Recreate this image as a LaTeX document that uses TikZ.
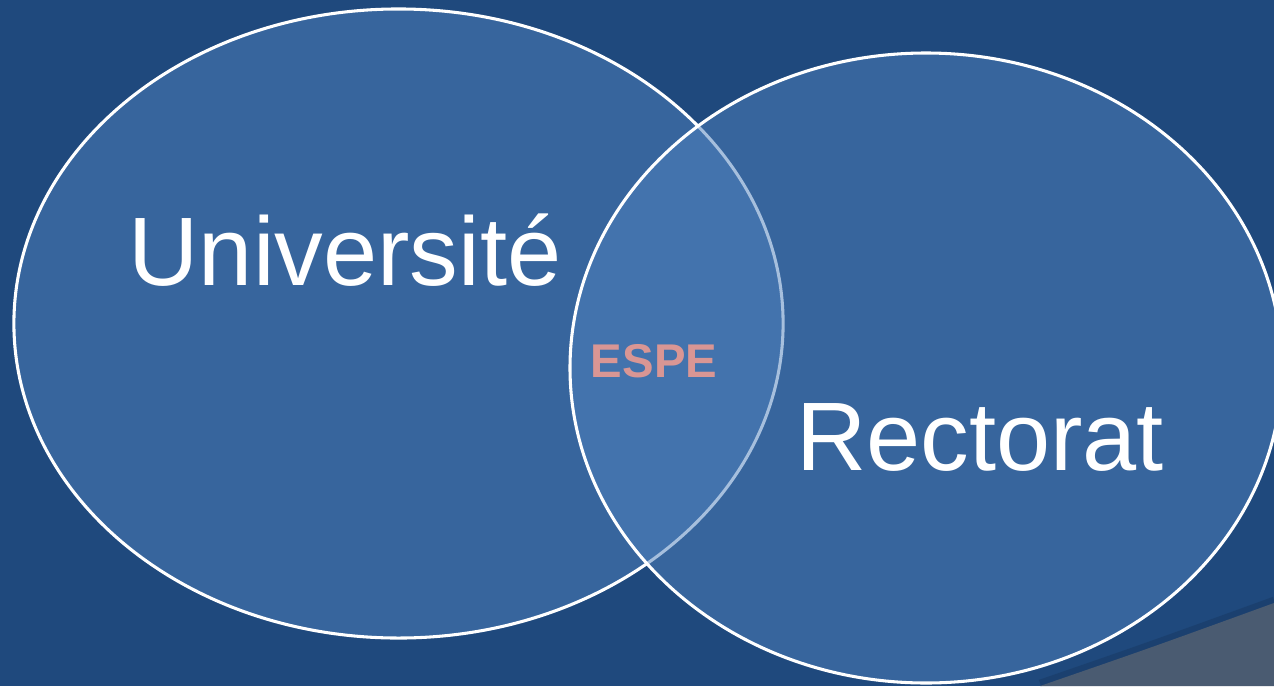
\documentclass[tikz,border=0pt]{standalone}
\usepackage{fontspec}
\setmainfont{Liberation Sans}
\usetikzlibrary{shapes.geometric}

\definecolor{slidebg}{HTML}{1F497D}
\definecolor{setfill}{HTML}{4F81BD}
\definecolor{espetext}{HTML}{D99694}
\definecolor{cornergray}{HTML}{4A5B71}
\definecolor{cornershade}{HTML}{17375E}

\tikzset{
	setellipse/.style={draw=white,
		ellipse,
		line width=2.3pt,
		inner sep=0pt,
		fill=setfill,
		fill opacity=0.5,
		draw opacity=1},
	setlabel/.style={text=white, font=\fontsize{73}{80}\selectfont, anchor=base}
}

\begin{document}
\begin{tikzpicture}[x=0.75pt,y=-0.75pt]
	
	% background of the slide
	\useasboundingbox (0,0) rectangle (1274,686);
	\clip (0,0) rectangle (1274,686);
	\fill[slidebg] (0,0) rectangle (1274,686);
	
	% corner of the slide
	\draw[cornershade, line width=5pt, opacity=0.45] (1040,683) .. controls (1150,645) .. (1274,600);
	\fill[cornergray] (1040,686) .. controls (1150,648) .. (1274,603) -- (1274,686) -- cycle;
	
	% the two sets
	\node[setellipse,
	minimum width=576.9pt,
	minimum height=471.8pt] (circle1) at (398.5,323.5){};
	\node[setellipse,
	minimum width=534pt,
	minimum height=472.5pt] (circle2) at (926,368){};
	
	\node[setlabel] (univ) at (345,285) {Université};
	\node[setlabel] (rect) at (980,470) {Rectorat};
	\node[text=espetext, font=\fontsize{35.5}{40}\selectfont\bfseries, anchor=base] (espe) at (654,377) {ESPE};
	
\end{tikzpicture}
\end{document}
